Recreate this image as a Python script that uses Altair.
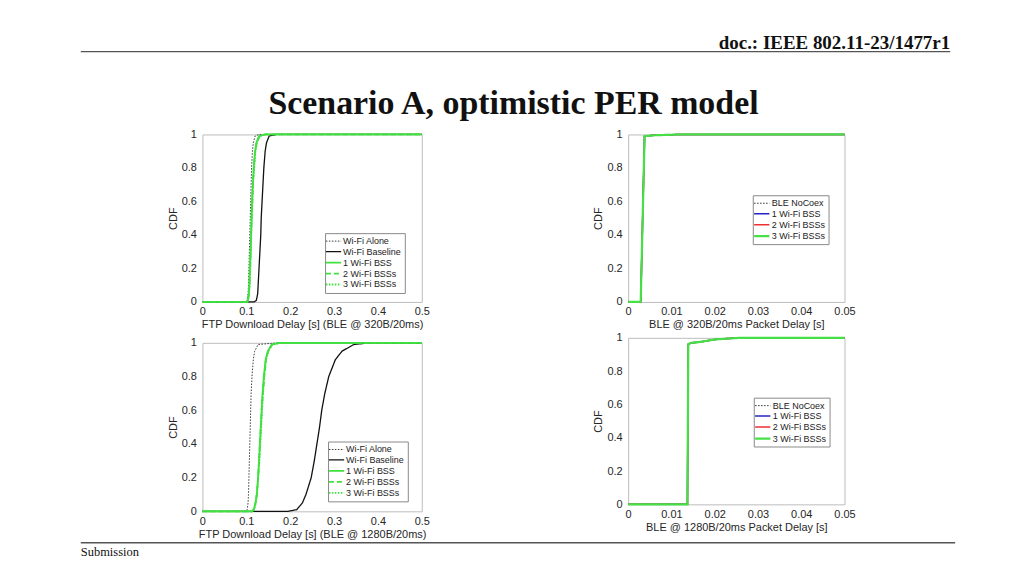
import altair as alt
import pandas as pd

# ---------------- text ----------------
DOC_LABEL = "doc.: IEEE 802.11-23/1477r1"
SLIDE_TITLE = "Scenario A, optimistic PER model"
FOOTER_LABEL = "Submission"

TL_XTITLE = "FTP Download Delay [s] (BLE @ 320B/20ms)"
BL_XTITLE = "FTP Download Delay [s] (BLE @ 1280B/20ms)"
TR_XTITLE = "BLE @ 320B/20ms Packet Delay [s]"
BR_XTITLE = "BLE @ 1280B/20ms Packet Delay [s]"

# ---------------- FTP panels (left) ----------------
FTP_SERIES = ["Wi-Fi Alone", "Wi-Fi Baseline", "1 Wi-Fi BSS", "2 Wi-Fi BSSs", "3 Wi-Fi BSSs"]
FTP_COLORS = ["#3a3a3a", "#111111", "#3fe03f", "#3fe03f", "#3fe03f"]
FTP_DASHES = [[1.5, 1.5], [1, 0], [1, 0], [5, 3], [1.5, 1.5]]
FTP_WIDTHS = [1.0, 1.3, 1.8, 1.8, 1.8]
FTP_XTICKS = [0, 0.1, 0.2, 0.3, 0.4, 0.5]
FTP_XDOMAIN = [0, 0.5]

CDF_LEVELS = [0, 0.01, 0.05, 0.1, 0.2, 0.3, 0.4, 0.5, 0.6, 0.7, 0.8, 0.9, 0.95, 0.99, 1]

# delay (s) reached at each CDF level, BLE @ 320B/20ms
TL_ALONE    = [0.100, 0.102, 0.104, 0.105, 0.106, 0.107, 0.108, 0.109, 0.110, 0.111, 0.112, 0.114, 0.116, 0.120, 0.128]
TL_BASELINE = [0.118, 0.123, 0.126, 0.127, 0.129, 0.131, 0.133, 0.134, 0.136, 0.138, 0.140, 0.143, 0.146, 0.152, 0.168]
TL_BSS1     = [0.102, 0.104, 0.106, 0.107, 0.108, 0.110, 0.111, 0.112, 0.113, 0.115, 0.117, 0.120, 0.123, 0.129, 0.142]
TL_BSS2     = [0.102, 0.104, 0.106, 0.107, 0.109, 0.110, 0.111, 0.112, 0.114, 0.115, 0.117, 0.120, 0.124, 0.130, 0.143]
TL_BSS3     = [0.102, 0.104, 0.106, 0.108, 0.109, 0.110, 0.111, 0.113, 0.114, 0.115, 0.118, 0.121, 0.124, 0.130, 0.145]

# delay (s) reached at each CDF level, BLE @ 1280B/20ms
BL_ALONE    = [0.100, 0.102, 0.104, 0.105, 0.106, 0.107, 0.108, 0.109, 0.110, 0.111, 0.113, 0.116, 0.119, 0.127, 0.170]
BL_BASELINE = [0.195, 0.215, 0.228, 0.236, 0.248, 0.255, 0.261, 0.267, 0.272, 0.279, 0.288, 0.303, 0.318, 0.345, 0.380]
BL_BSS1     = [0.113, 0.117, 0.121, 0.124, 0.127, 0.129, 0.131, 0.133, 0.135, 0.137, 0.140, 0.144, 0.149, 0.158, 0.175]
BL_BSS2     = [0.113, 0.117, 0.121, 0.124, 0.127, 0.129, 0.131, 0.133, 0.135, 0.138, 0.141, 0.145, 0.150, 0.159, 0.176]
BL_BSS3     = [0.114, 0.118, 0.122, 0.124, 0.127, 0.130, 0.132, 0.134, 0.136, 0.138, 0.141, 0.145, 0.150, 0.159, 0.177]

# ---------------- BLE panels (right) ----------------
BLE_SERIES = ["BLE NoCoex", "1 Wi-Fi BSS", "2 Wi-Fi BSSs", "3 Wi-Fi BSSs"]
BLE_COLORS = ["#333333", "#2323c8", "#f03030", "#45e045"]
BLE_DASHES = [[1.5, 1.5], [1, 0], [1, 0], [1, 0]]
BLE_WIDTHS = [1.0, 1.5, 1.5, 2.2]
BLE_XTICKS = [0, 0.01, 0.02, 0.03, 0.04, 0.05]
BLE_XDOMAIN = [0, 0.05]

TR_X_NOCOEX = [0, 0.0029, 0.0037, 0.0045, 0.0060, 0.0090, 0.05]
TR_Y_NOCOEX = [0, 0, 0.990, 0.993, 0.995, 1.0, 1.0]
TR_X_WIFI   = [0, 0.0029, 0.0038, 0.0060, 0.0120, 0.05]
TR_Y_WIFI   = [0, 0, 0.990, 0.995, 1.0, 1.0]

BR_X_NOCOEX = [0, 0.0137, 0.0139, 0.0142, 0.0145, 0.0150, 0.0170, 0.0200, 0.0250, 0.05]
BR_Y_NOCOEX = [0, 0, 0.960, 0.962, 0.965, 0.970, 0.975, 0.990, 1.0, 1.0]
BR_X_WIFI   = [0, 0.0137, 0.0139, 0.0145, 0.0160, 0.0184, 0.0200, 0.0225, 0.0260, 0.05]
BR_Y_WIFI   = [0, 0, 0.962, 0.970, 0.973, 0.983, 0.990, 0.995, 1.0, 1.0]

Y_TICKS = [0, 0.2, 0.4, 0.6, 0.8, 1]

SANS = "Liberation Sans"
SERIF = "Liberation Serif"


def quantile_frame(series, xlists, x_end):
    rows = []
    for name, xs in zip(series, xlists):
        rows.append({"series": name, "x": 0.0, "y": 0.0})
        for x, lvl in zip(xs, CDF_LEVELS):
            rows.append({"series": name, "x": x, "y": lvl})
        rows.append({"series": name, "x": x_end, "y": 1.0})
    return pd.DataFrame(rows)


def xy_frame(series, xlists, ylists):
    rows = []
    for name, xs, ys in zip(series, xlists, ylists):
        for x, y in zip(xs, ys):
            rows.append({"series": name, "x": x, "y": y})
    return pd.DataFrame(rows)


tl_df = quantile_frame(FTP_SERIES, [TL_ALONE, TL_BASELINE, TL_BSS1, TL_BSS2, TL_BSS3], FTP_XDOMAIN[1])
bl_df = quantile_frame(FTP_SERIES, [BL_ALONE, BL_BASELINE, BL_BSS1, BL_BSS2, BL_BSS3], FTP_XDOMAIN[1])
tr_df = xy_frame(BLE_SERIES,
                 [TR_X_NOCOEX, TR_X_WIFI, TR_X_WIFI, TR_X_WIFI],
                 [TR_Y_NOCOEX, TR_Y_WIFI, TR_Y_WIFI, TR_Y_WIFI])
br_df = xy_frame(BLE_SERIES,
                 [BR_X_NOCOEX, BR_X_WIFI, BR_X_WIFI, BR_X_WIFI],
                 [BR_Y_NOCOEX, BR_Y_WIFI, BR_Y_WIFI, BR_Y_WIFI])


def panel(df, series, colors, dashes, widths, xdom, xticks, xtitle, w, h, lx, ly):
    legend = alt.Legend(
        orient="none", legendX=lx, legendY=ly, title=None,
        symbolType="M-1.7,0H1.7", symbolSize=81, labelFont=SANS, labelFontSize=9,
        labelColor="#222222", strokeColor="#8a8a8a", fillColor="white",
        padding=3, rowPadding=0, labelOffset=4, offset=0,
    )
    return alt.Chart(df).mark_line().encode(
        x=alt.X("x:Q",
                scale=alt.Scale(domain=xdom, nice=False, zero=False),
                axis=alt.Axis(values=xticks, format="~g", title=xtitle, grid=False,
                              ticks=False, domain=False, labelFlush=False,
                              labelOverlap=False, labelFont=SANS, labelFontSize=11,
                              labelColor="#262626", labelPadding=4,
                              titleFont=SANS, titleFontSize=11,
                              titleFontWeight="normal", titleColor="#262626",
                              titlePadding=2)),
        y=alt.Y("y:Q",
                scale=alt.Scale(domain=[0, 1], nice=False, zero=False),
                axis=alt.Axis(values=Y_TICKS, format="~g", title="CDF", grid=False,
                              ticks=False, domain=False, labelFlush=False,
                              labelOverlap=False, labelFont=SANS, labelFontSize=11,
                              labelColor="#262626", labelPadding=6,
                              titleFont=SANS, titleFontSize=11,
                              titleFontWeight="normal", titleColor="#262626",
                              titlePadding=3)),
        color=alt.Color("series:N", scale=alt.Scale(domain=series, range=colors),
                        legend=legend),
        strokeDash=alt.StrokeDash("series:N",
                                  scale=alt.Scale(domain=series, range=dashes),
                                  legend=legend),
        strokeWidth=alt.StrokeWidth("series:N",
                                    scale=alt.Scale(type="ordinal", domain=series,
                                                    range=widths),
                                    legend=legend),
    ).properties(width=w, height=h,
                 view=alt.ViewBackground(stroke="#bdbdbd", strokeWidth=1))


tl = panel(tl_df, FTP_SERIES, FTP_COLORS, FTP_DASHES, FTP_WIDTHS, FTP_XDOMAIN,
           FTP_XTICKS, TL_XTITLE, 220, 168, 123, 99)
bl = panel(bl_df, FTP_SERIES, FTP_COLORS, FTP_DASHES, FTP_WIDTHS, FTP_XDOMAIN,
           FTP_XTICKS, BL_XTITLE, 220, 169, 126, 99)
tr = panel(tr_df, BLE_SERIES, BLE_COLORS, BLE_DASHES, BLE_WIDTHS, BLE_XDOMAIN,
           BLE_XTICKS, TR_XTITLE, 217, 168, 125, 61)
br = panel(br_df, BLE_SERIES, BLE_COLORS, BLE_DASHES, BLE_WIDTHS, BLE_XDOMAIN,
           BLE_XTICKS, BR_XTITLE, 217, 167, 126, 60)

IND = dict(color="independent", strokeDash="independent", strokeWidth="independent")


def indep(c):
    return c.resolve_scale(**IND).resolve_legend(**IND)


left_col = indep(alt.vconcat(tl, bl, spacing=41, bounds="flush"))
right_col = indep(alt.vconcat(tr, br, spacing=36, bounds="flush"))
# nested columns report no width under flush bounds, so spacing spans the left column
panels = indep(alt.hconcat(left_col, right_col, spacing=427, bounds="flush"))

one = pd.DataFrame({"k": [0]})
spacer = alt.Chart(one).mark_point(opacity=0).encode(
    x=alt.value(0), y=alt.value(0)
).properties(width=192, height=10, view=alt.ViewBackground(stroke=None))

body = indep(alt.hconcat(spacer, panels, spacing=0, bounds="flush"))

base = alt.Chart(one)
doc_text = base.mark_text(font=SERIF, fontWeight="bold", fontSize=19, align="right",
                          baseline="alphabetic", color="#111111").encode(
    x=alt.value(942), y=alt.value(40), text=alt.value(DOC_LABEL))
top_rule = base.mark_rule(color="#555555", strokeWidth=1.3).encode(
    x=alt.value(70), x2=alt.value(942), y=alt.value(43))
title_text = base.mark_text(font=SERIF, fontWeight="bold", fontSize=34, align="center",
                            baseline="alphabetic", color="#111111").encode(
    x=alt.value(504), y=alt.value(105), text=alt.value(SLIDE_TITLE))
foot_rule = base.mark_rule(color="#555555", strokeWidth=1.3).encode(
    x=alt.value(70), x2=alt.value(947), y=alt.value(535.5))
foot_text = base.mark_text(font=SERIF, fontSize=12.5, align="left",
                           baseline="alphabetic", color="#111111").encode(
    x=alt.value(70), y=alt.value(549), text=alt.value(FOOTER_LABEL))

header = alt.layer(doc_text, top_rule, title_text, foot_rule, foot_text).properties(
    width=1008, height=126, view=alt.ViewBackground(stroke=None))

chart = indep(alt.vconcat(header, body, spacing=0, bounds="flush")).properties(
    padding=0, background="white")

chart.save("out.html", embed_options={"renderer": "svg", "actions": False})
